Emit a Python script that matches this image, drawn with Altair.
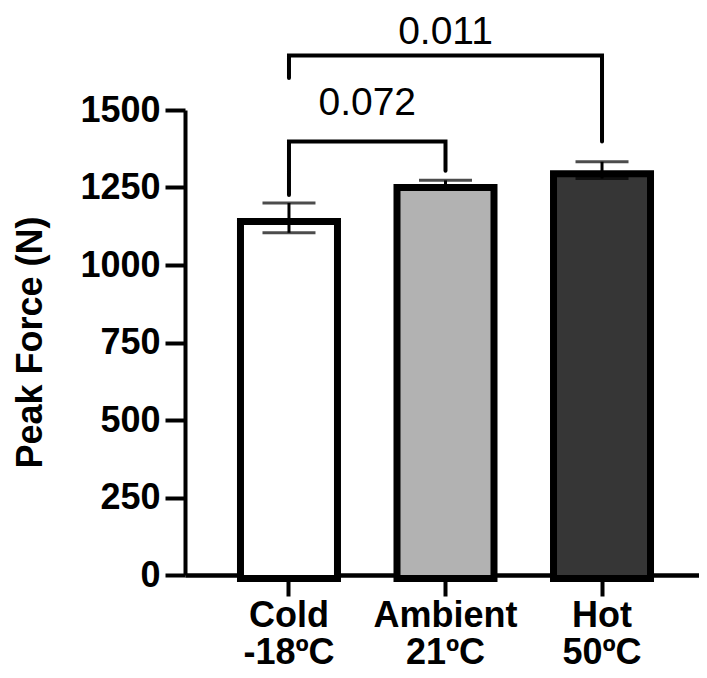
import altair as alt
import pandas as pd

FONT = "Liberation Sans, Arial, Helvetica, sans-serif"

# ---- data ----
categories = ["Cold -18ºC", "Ambient 21ºC", "Hot 50ºC"]
means = [1152, 1261, 1306]
sems = [48, 12, 27]
fills = ["#ffffff", "#b2b2b2", "#363636"]

# significance brackets (path points: leg bottom, corner, corner, leg bottom)
bracket_ids = ["a", "a", "a", "a", "b", "b", "b", "b"]
bracket_cats = ["Cold -18ºC", "Cold -18ºC", "Ambient 21ºC", "Ambient 21ºC",
                "Cold -18ºC", "Cold -18ºC", "Hot 50ºC", "Hot 50ºC"]
bracket_vals = [1226, 1398, 1398, 1304, 1603, 1676, 1676, 1398]
bracket_order = [0, 1, 2, 3, 0, 1, 2, 3]

p_labels = ["0.072", "0.011"]
p_vals = [1484, 1712]

y_ticks = [0, 250, 500, 750, 1000, 1250, 1500]
Y_TITLE = "Peak Force (N)"

bars_df = pd.DataFrame({
    "cat": categories,
    "val": means,
    "lo": [m - s for m, s in zip(means, sems)],
    "hi": [m + s for m, s in zip(means, sems)],
})
br_df = pd.DataFrame({"id": bracket_ids, "cat": bracket_cats,
                      "val": bracket_vals, "ord": bracket_order})
txt072 = pd.DataFrame({"cat": ["Ambient 21ºC"], "val": [p_vals[0]], "lab": [p_labels[0]]})
txt011 = pd.DataFrame({"cat": ["Ambient 21ºC"], "val": [p_vals[1]], "lab": [p_labels[1]]})

xscale = alt.Scale(domain=categories, paddingInner=0, paddingOuter=0.142, align=0.5787)
yscale = alt.Scale(domain=[0, 1500], nice=False, zero=True)

x_axis = alt.Axis(title=None, labelExpr="split(datum.label, ' ')", labelAngle=0)
y_axis = alt.Axis(values=y_ticks, title=Y_TITLE, format="d")


def X(bp=None):
    if bp is None:
        return alt.X("cat:N", scale=xscale, axis=x_axis, sort=categories)
    return alt.X("cat:N", scale=xscale, axis=x_axis, sort=categories, bandPosition=bp)


def Y(field):
    return alt.Y(field, scale=yscale, axis=y_axis, title=Y_TITLE)


bars = alt.Chart(bars_df).mark_bar(size=97, stroke="black", strokeWidth=7, yOffset=3.5).encode(
    x=X(),
    y=Y("val:Q"),
    color=alt.Color("cat:N", scale=alt.Scale(domain=categories, range=fills), legend=None),
)

whisk = alt.Chart(bars_df).mark_rule(color="black", strokeWidth=3).encode(
    x=X(),
    y=Y("lo:Q"),
    y2=alt.Y2("hi:Q", title=Y_TITLE),
)
cap_hi = alt.Chart(bars_df).mark_tick(color="black", size=53, thickness=3).encode(
    x=X(),
    y=Y("hi:Q"),
)
cap_lo = alt.Chart(bars_df).mark_tick(color="black", size=53, thickness=3).encode(
    x=X(),
    y=Y("lo:Q"),
)

brackets = alt.Chart(br_df).mark_line(color="black", strokeWidth=4, strokeCap="round",
                                      strokeJoin="miter").encode(
    x=X(),
    y=Y("val:Q"),
    detail="id:N",
    order="ord:Q",
)

t1 = alt.Chart(txt072).mark_text(font=FONT, fontSize=39, color="black",
                                 baseline="alphabetic", align="center").encode(
    x=X(0),
    y=Y("val:Q"),
    text="lab:N",
)
t2 = alt.Chart(txt011).mark_text(font=FONT, fontSize=39, color="black",
                                 baseline="alphabetic", align="center").encode(
    x=X(0.5),
    y=Y("val:Q"),
    text="lab:N",
)

chart = alt.layer(bars, whisk, cap_hi, cap_lo, brackets, t1, t2).properties(
    width=514,
    height=465,
    autosize=alt.AutoSizeParams(type="none"),
    padding={"left": 177, "top": 102, "right": 0, "bottom": 96},
    background="white",
).configure_view(strokeWidth=0).configure_axis(
    grid=False,
    domainColor="black",
    tickColor="black",
    labelColor="black",
    titleColor="black",
    labelFont=FONT,
    titleFont=FONT,
    labelFontWeight="bold",
    titleFontWeight="bold",
    zindex=1,
).configure_axisY(
    labelFontSize=36,
    tickSize=20,
    tickWidth=4,
    domainWidth=4,
    labelPadding=5,
    titleFontSize=36,
    titleX=-155,
    titleY=232,
    titleAngle=270,
    titleAlign="center",
    titleBaseline="middle",
).configure_axisX(
    labelFontSize=36,
    tickSize=21,
    tickWidth=4,
    domainWidth=4.5,
    labelPadding=2,
    labelLineHeight=37,
)

chart.save("out.html", embed_options={"renderer": "svg", "actions": False})
